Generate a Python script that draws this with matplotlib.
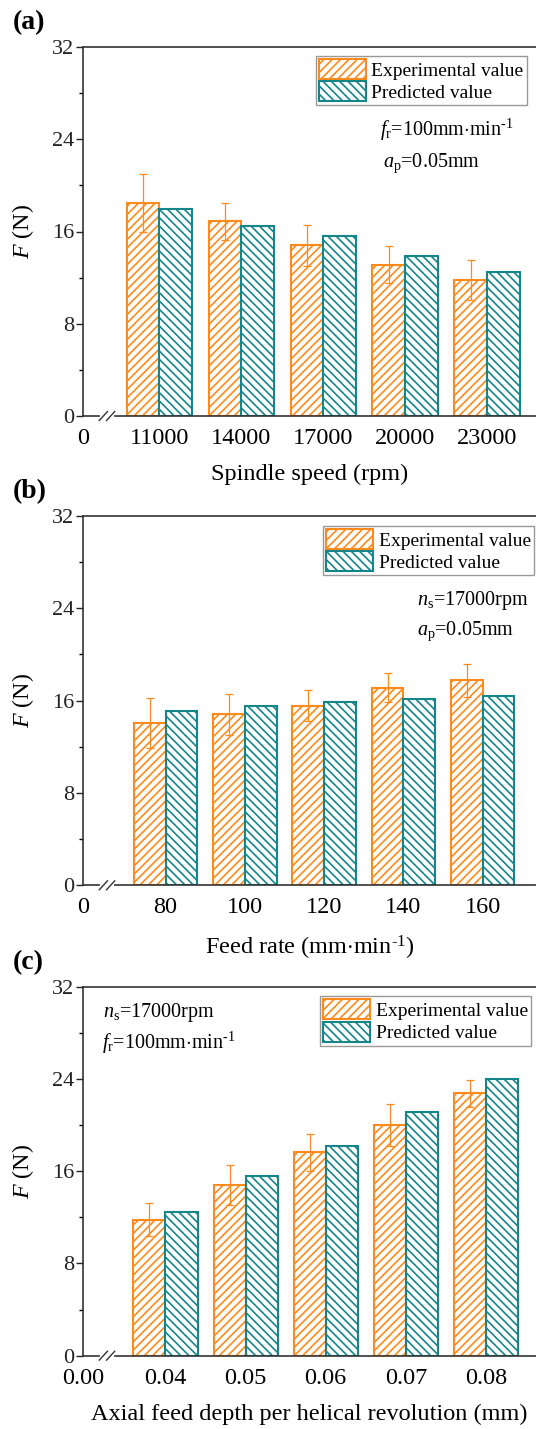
import matplotlib
matplotlib.use("Agg")
import matplotlib.pyplot as plt
import numpy as np

plt.rcParams['font.family'] = ['Liberation Serif', 'DejaVu Serif']
plt.rcParams['mathtext.fontset'] = 'custom'
plt.rcParams['mathtext.rm'] = 'Liberation Serif'
plt.rcParams['mathtext.it'] = 'Liberation Serif:italic'
plt.rcParams['mathtext.bf'] = 'Liberation Serif:bold'
plt.rcParams['hatch.linewidth'] = 1.2

# ---------------- data ----------------
speed_labels = ['11000', '14000', '17000', '20000', '23000']
speed_exp = [18.5, 16.9, 14.8, 13.1, 11.8]
speed_err = [2.5, 1.6, 1.75, 1.6, 1.7]
speed_pred = [17.95, 16.45, 15.6, 13.9, 12.45]

feed_labels = ['80', '100', '120', '140', '160']
feed_exp = [14.05, 14.8, 15.55, 17.1, 17.75]
feed_err = [2.15, 1.75, 1.35, 1.25, 1.45]
feed_pred = [15.05, 15.55, 15.85, 16.1, 16.35]

depth_labels = ['0.04', '0.05', '0.06', '0.07', '0.08']
depth_exp = [11.8, 14.8, 17.65, 20.0, 22.75]
depth_err = [1.45, 1.75, 1.6, 1.8, 1.15]
depth_pred = [12.5, 15.6, 18.2, 21.1, 24.0]

yticks = [0, 8, 16, 24, 32]
ORANGE = '#FF8A1C'
TEAL = '#14868A'

W, H = 536, 1429
fig = plt.figure(figsize=(W / 100, H / 100), dpi=100)

MINUS1 = r'$^{\text{-}1}$'
panels = [
    dict(tag='(a)', labels=speed_labels, exp=speed_exp, err=speed_err, pred=speed_pred,
         zero='0', xlabel='Spindle speed (rpm)', top=47, bottom=416, xl=0.073, xr=5.594,
         leg=(0.9795, 1 - 0.0236),
         notes=[(r'$f_\mathrm{r}$=100mm$\cdot$min' + MINUS1, 380, 130),
                (r'$a_\mathrm{p}$=0.05mm', 383, 163)]),
    dict(tag='(b)', labels=feed_labels, exp=feed_exp, err=feed_err, pred=feed_pred,
         zero='0', xlabel='Feed rate (mm$\\cdot$min' + MINUS1 + ')', top=515.7, bottom=885.3,
         xl=-0.037, xr=5.672, leg=(0.9958, 0.973),
         notes=[(r'$n_\mathrm{s}$=17000rpm', 417, 600), (r'$a_\mathrm{p}$=0.05mm', 417, 631)]),
    dict(tag='(c)', labels=depth_labels, exp=depth_exp, err=depth_err, pred=depth_pred,
         zero='0.00', xlabel='Axial feed depth per helical revolution (mm)', top=986.7,
         bottom=1355.7, xl=-0.026, xr=5.625, leg=(0.989, 0.975),
         notes=[(r'$n_\mathrm{s}$=17000rpm', 103, 1012),
                (r'$f_\mathrm{r}$=100mm$\cdot$min' + MINUS1, 102, 1043)]),
]

left_px = 83.3
for p in panels:
    ax = fig.add_axes([left_px / W, 1 - p['bottom'] / H, (W - left_px) / W,
                       (p['bottom'] - p['top']) / H])
    x = np.arange(1, len(p['labels']) + 1)
    bw = 0.4
    ax.bar(x - bw / 2, p['exp'], bw, facecolor='white', edgecolor=ORANGE, hatch='////',
           linewidth=1.5, label='Experimental value', zorder=2)
    ax.bar(x + bw / 2, p['pred'], bw, facecolor='white', edgecolor=TEAL, hatch='\\\\\\\\',
           linewidth=1.5, label='Predicted value', zorder=2)
    ax.errorbar(x - bw / 2, p['exp'], yerr=p['err'], fmt='none', ecolor=ORANGE,
                elinewidth=0.9, capsize=3, capthick=0.9, zorder=3)
    ax.set_xlim(p['xl'], p['xr'])
    ax.set_ylim(0, 32)
    ax.set_yticks(yticks)
    ax.set_yticks([4, 12, 20, 28], minor=True)
    ax.set_xticks([p['xl']] + list(x))
    ax.set_xticklabels([p['zero']] + p['labels'])
    ax.tick_params(axis='y', direction='out', length=5, width=1, labelsize=16, pad=1.5,
                   colors='#222222')
    ax.tick_params(axis='y', which='minor', direction='out', length=3, width=1)
    ax.tick_params(axis='x', length=0, labelsize=17.5, pad=8.5)
    for s in ['left', 'bottom', 'top']:
        ax.spines[s].set_linewidth(1.2)
        ax.spines[s].set_color('#333333')
    ax.spines['right'].set_visible(False)
    ax.set_ylabel(r'$F$ (N)', fontsize=17.3)
    ax.yaxis.set_label_coords(-(left_px - 36) / (W - left_px), 0.5)
    ax.set_xlabel(p['xlabel'], fontsize=17.5, labelpad=11)

    leg = ax.legend(loc='upper right', bbox_to_anchor=p['leg'],
                    borderaxespad=0, fontsize=14, frameon=True, fancybox=False,
                    handlelength=2.42, handleheight=1.2, handletextpad=0.27,
                    labelspacing=0.1, borderpad=0.17)
    leg.get_frame().set_edgecolor('#808080')
    leg.get_frame().set_linewidth(1.0)

    # axis break marks
    bx = (107 - left_px) / (W - left_px)
    ax.plot([bx - 0.011, bx + 0.011], [0, 0], transform=ax.transAxes, color='white',
            lw=3, clip_on=False, zorder=5)
    for dx in (-0.008, 0.008):
        ax.plot([bx + dx - 0.009, bx + dx + 0.009], [-0.012, 0.012], transform=ax.transAxes,
                color='#333333', lw=1.0, clip_on=False, zorder=6)

    for txt, tx, ty in p['notes']:
        fig.text(tx / W, 1 - ty / H, txt, fontsize=14.5, va='center', ha='left')
    fig.text(13 / W, 1 - (p['top'] - 24) / H, p['tag'], fontsize=20, fontweight='bold',
             va='center', ha='left')

fig.savefig('out.png', dpi=100)
